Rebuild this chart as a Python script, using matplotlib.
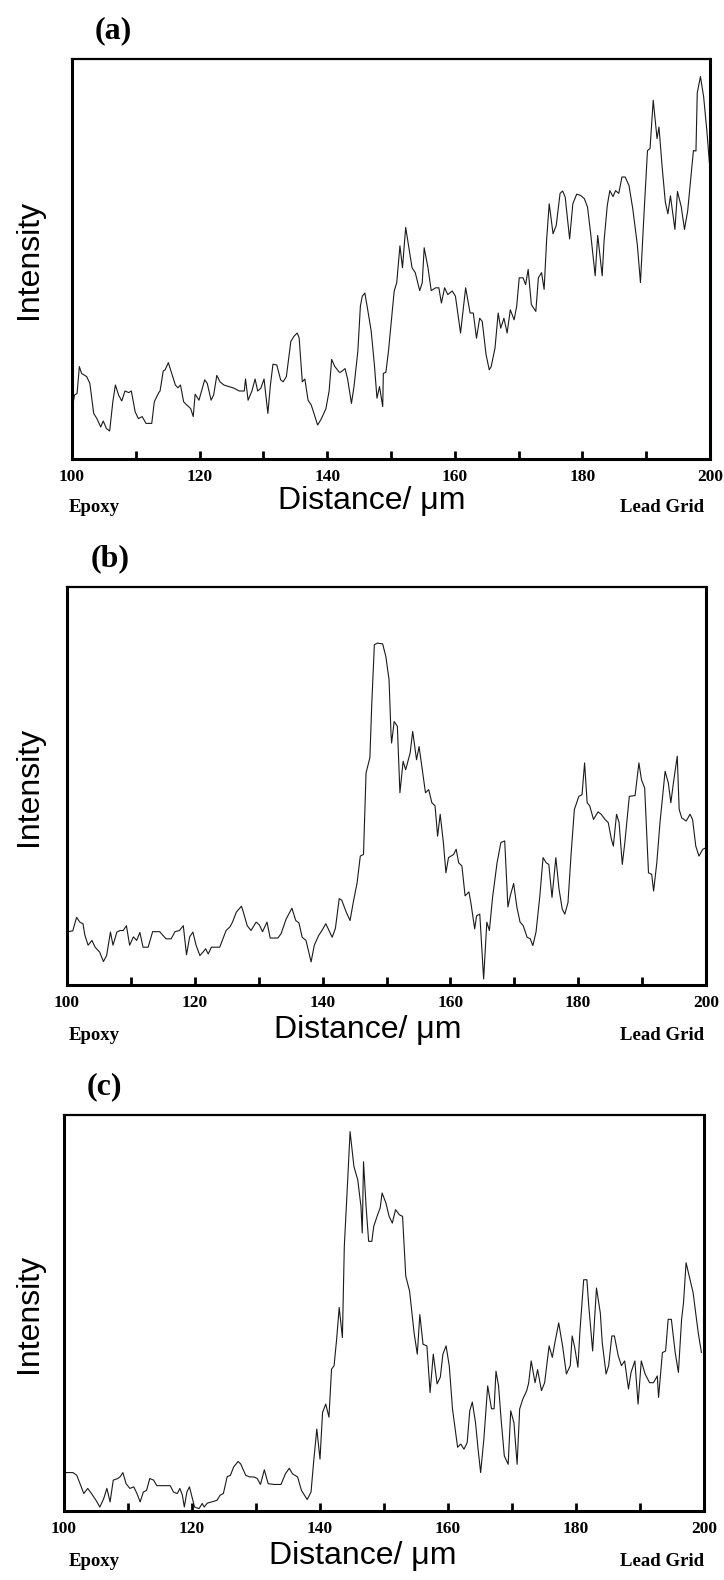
import matplotlib
matplotlib.use("Agg")
import matplotlib.pyplot as plt

# ---------------- data ----------------
dist_a = [100.0, 100.4, 100.8, 101.15, 101.5, 102.3, 102.8, 103.4, 103.9, 104.5, 104.9, 105.4, 105.9,
          106.4, 106.8, 107.3, 107.8, 108.3, 108.9, 109.3, 109.9, 110.4, 111.0, 111.6, 112.5, 112.9,
          113.6, 113.8, 114.3, 114.6, 115.1, 115.7, 116.2, 116.6, 117.0, 117.5, 118.0, 118.6, 119.0,
          119.3, 119.9, 120.8, 121.2, 121.8, 122.2, 122.7, 123.2, 123.8, 124.6, 125.4, 126.2, 127.0,
          127.2, 127.6, 128.2, 128.7, 129.1, 129.6, 130.1, 130.7, 131.1, 131.5, 132.1, 132.7, 133.1,
          133.6, 134.3, 134.8, 135.3, 135.6, 136.1, 136.5, 137.0, 137.5, 138.5, 139.1, 139.8, 140.3,
          140.7, 141.2, 141.9, 142.1, 142.8, 143.2, 143.8, 144.2, 144.8, 145.2, 145.5, 145.9, 146.3,
          146.9, 147.4, 147.8, 148.2, 148.7, 148.8, 149.2, 149.6, 150.2, 150.5, 150.9, 151.4, 151.8,
          152.3, 152.8, 153.3, 153.8, 154.5, 154.9, 155.2, 155.8, 156.3, 157.0, 157.5, 157.9, 158.4,
          158.9, 159.6, 160.1, 160.9, 161.7, 162.4, 162.9, 163.4, 163.9, 164.3, 164.9, 165.4, 165.7,
          166.3, 166.8, 167.2, 167.7, 168.2, 168.7, 169.3, 169.7, 170.1, 170.7, 171.1, 171.5, 172.0,
          172.7, 173.1, 173.6, 174.0, 174.4, 174.8, 175.4, 175.9, 176.5, 176.9, 177.3, 178.0, 178.5,
          179.1, 179.7, 180.3, 180.8, 181.3, 182.0, 182.4, 183.1, 183.4, 183.9, 184.3, 184.8, 185.2,
          185.7, 186.2, 186.7, 187.3, 187.9, 188.6, 189.1, 189.6, 190.2, 190.6, 191.1, 191.7, 192.0,
          192.5, 193.0, 193.4, 193.8, 194.5, 194.9, 195.5, 196.0, 196.5, 197.0, 197.4, 197.8, 198.0,
          198.5, 199.0, 199.5, 200.0]
int_a = [12.6, 16.0, 16.4, 23.1, 21.4, 20.6, 18.9, 11.4, 10.1, 8.0, 9.5, 7.6, 7.0,
         14.3, 18.5, 16.0, 14.5, 17.0, 16.6, 17.0, 11.8, 10.1, 10.6, 8.9, 8.9, 14.3,
         16.6, 17.0, 22.0, 22.3, 24.1, 21.0, 18.5, 17.8, 18.5, 14.3, 13.5, 12.6, 10.6,
         16.2, 14.7, 19.8, 18.9, 14.7, 16.0, 20.9, 19.3, 18.5, 18.1, 17.7, 17.0, 17.0,
         20.0, 14.7, 17.0, 20.0, 17.0, 17.7, 20.0, 11.4, 18.5, 23.7, 23.5, 19.8, 19.3,
         20.6, 29.4, 30.7, 31.5, 30.3, 19.3, 20.0, 14.7, 13.5, 8.5, 10.1, 12.6, 17.0,
         24.9, 23.1, 21.7, 21.7, 22.6, 20.0, 13.9, 18.1, 26.9, 38.2, 40.7, 41.5, 37.8,
         31.9, 23.5, 15.2, 18.1, 13.1, 21.4, 21.7, 26.9, 36.9, 42.0, 44.1, 53.3, 47.8,
         57.9, 52.8, 47.8, 46.6, 42.1, 44.1, 52.8, 47.8, 42.1, 42.8, 42.8, 39.0, 42.8,
         41.1, 42.0, 40.7, 31.5, 42.8, 36.5, 36.5, 30.2, 35.2, 34.4, 26.1, 22.3, 23.1,
         27.7, 36.5, 32.7, 35.2, 31.5, 37.3, 34.8, 38.2, 45.3, 45.3, 43.6, 47.4, 38.6,
         36.9, 45.3, 46.6, 42.4, 55.0, 63.8, 56.3, 58.4, 66.4, 67.0, 65.5, 55.0, 63.8,
         66.2, 65.9, 65.1, 63.0, 56.3, 45.8, 55.9, 45.8, 54.6, 63.4, 67.1, 65.6, 67.1,
         66.4, 70.5, 70.5, 68.4, 62.5, 53.7, 44.1, 59.6, 77.1, 77.6, 89.7, 80.1, 83.0,
         73.0, 64.2, 61.3, 65.8, 57.4, 66.9, 63.0, 57.4, 62.0, 70.5, 77.1, 77.0, 91.5,
         95.6, 90.6, 82.2, 72.2]

dist_b = [100.2, 100.9, 101.5, 102.0, 102.5, 102.8, 103.3, 103.9, 104.4, 105.1, 105.7, 106.2, 106.8,
          107.2, 107.8, 108.3, 108.8, 109.3, 109.8, 110.4, 110.9, 111.4, 111.9, 112.7, 113.4, 114.5,
          115.5, 116.3, 116.9, 117.6, 118.2, 118.7, 119.2, 119.7, 120.2, 120.8, 121.3, 121.7, 122.1,
          122.6, 123.9, 124.9, 125.5, 125.9, 126.5, 127.3, 127.6, 128.2, 128.8, 129.6, 130.1, 130.6,
          131.3, 131.8, 133.0, 133.5, 134.3, 135.2, 135.8, 136.3, 136.8, 137.4, 138.2, 138.7, 139.4,
          139.9, 140.5, 141.0, 141.5, 142.0, 142.6, 143.0, 143.7, 144.3, 144.8, 145.4, 145.9, 146.4,
          146.8, 147.4, 147.7, 148.1, 148.6, 149.4, 149.9, 150.4, 150.7, 150.8, 151.2, 151.7, 152.1,
          152.6, 153.0, 153.7, 154.1, 154.7, 155.1, 155.6, 156.1, 156.6, 157.1, 157.6, 158.0, 158.4,
          158.9, 159.3, 159.7, 160.5, 160.9, 161.3, 161.8, 162.3, 162.9, 163.2, 163.8, 164.1, 164.6,
          165.2, 165.7, 166.1, 166.6, 167.3, 167.9, 168.5, 169.0, 169.4, 169.9, 170.4, 170.9, 171.4,
          172.0, 172.5, 172.9, 173.4, 174.0, 174.5, 175.0, 175.4, 175.9, 176.5, 177.0, 177.5, 177.9,
          178.4, 178.9, 179.4, 180.1, 180.6, 181.0, 181.4, 181.8, 182.4, 183.1, 183.6, 184.2, 184.7,
          185.2, 185.5, 186.0, 186.4, 186.9, 187.3, 188.0, 188.9, 189.5, 189.9, 190.4, 191.0, 191.5,
          191.8, 192.3, 192.8, 193.6, 194.1, 194.5, 194.9, 195.5, 195.8, 196.2, 196.9, 197.5, 197.9,
          198.4, 198.9, 199.5, 200.0]
int_b = [13.4, 13.6, 17.0, 15.8, 15.4, 12.5, 10.0, 11.2, 9.5, 8.3, 5.9, 7.4, 13.3,
         10.0, 13.3, 13.7, 13.7, 14.9, 10.0, 12.1, 11.2, 13.2, 9.5, 9.5, 13.4, 13.4,
         11.6, 11.6, 13.4, 13.7, 14.9, 7.6, 12.1, 13.3, 10.0, 7.4, 8.3, 9.1, 7.8,
         9.5, 9.5, 13.7, 14.6, 15.8, 18.3, 19.8, 18.3, 14.9, 13.7, 15.8, 15.1, 13.4,
         15.8, 11.8, 11.8, 12.9, 16.6, 19.3, 16.2, 15.6, 12.0, 11.2, 5.8, 10.0, 12.5,
         13.7, 15.4, 13.7, 12.0, 14.2, 21.7, 21.3, 18.3, 16.2, 20.8, 25.7, 32.4, 32.8,
         53.3, 57.1, 70.8, 85.5, 85.9, 85.7, 82.5, 76.7, 63.3, 60.8, 66.2, 65.0, 48.3,
         56.2, 54.1, 58.3, 63.7, 56.6, 59.9, 54.1, 48.3, 49.1, 45.8, 45.0, 37.4, 42.9,
         35.8, 28.2, 32.0, 32.8, 34.1, 30.7, 29.9, 22.4, 23.4, 20.7, 14.1, 17.4, 17.8,
         1.5, 15.8, 13.7, 22.0, 30.7, 35.8, 36.2, 19.6, 22.6, 25.5, 19.6, 15.8, 14.9,
         12.0, 11.6, 9.9, 13.3, 22.4, 32.0, 30.7, 30.3, 22.0, 32.0, 24.1, 19.1, 17.8,
         20.7, 33.2, 44.1, 47.4, 47.8, 55.8, 45.8, 45.0, 41.6, 43.5, 42.9, 41.6, 40.8,
         36.6, 34.9, 42.9, 40.8, 30.3, 35.8, 47.4, 47.6, 55.8, 51.6, 49.5, 28.2, 27.8,
         23.6, 30.7, 40.8, 53.7, 50.8, 45.8, 50.8, 57.5, 44.1, 42.0, 41.2, 42.9, 41.6,
         34.9, 32.4, 34.1, 34.5]

dist_c = [100.0, 101.4, 102.0, 102.5, 103.1, 103.7, 104.3, 105.0, 105.6, 106.2, 106.7, 107.2, 107.7,
          108.4, 108.8, 109.2, 109.7, 110.3, 110.9, 111.4, 111.9, 112.4, 112.9, 113.4, 114.0, 114.5,
          116.6, 117.1, 117.7, 118.1, 118.5, 118.8, 119.2, 119.6, 120.0, 120.4, 121.1, 121.6, 121.9,
          122.4, 123.1, 123.9, 124.4, 124.9, 125.5, 126.0, 126.5, 127.2, 127.6, 128.4, 129.0, 129.7,
          130.2, 130.7, 131.3, 131.9, 132.8, 133.9, 134.6, 135.2, 135.7, 136.5, 137.1, 138.0, 138.6,
          139.0, 139.5, 140.0, 140.4, 140.9, 141.4, 141.8, 142.2, 142.6, 143.0, 143.5, 143.8, 144.2,
          144.7, 145.3, 145.9, 146.4, 146.6, 146.8, 147.2, 147.6, 148.1, 148.4, 149.0, 149.4, 149.7,
          150.3, 150.8, 151.3, 151.8, 152.4, 152.9, 153.4, 154.0, 154.7, 155.2, 155.6, 156.1, 156.7,
          157.2, 157.7, 158.3, 158.8, 159.2, 159.7, 160.2, 160.7, 161.5, 162.0, 162.5, 163.0, 163.4,
          163.8, 164.3, 164.7, 165.1, 165.6, 166.2, 166.8, 167.2, 167.5, 167.9, 168.3, 168.8, 169.4,
          169.8, 170.3, 170.8, 171.2, 171.7, 172.3, 172.6, 173.0, 173.6, 174.0, 174.6, 175.1, 175.8,
          176.3, 176.7, 177.3, 177.9, 178.5, 179.1, 179.4, 179.8, 180.3, 180.6, 181.2, 181.7, 182.0,
          182.6, 183.2, 183.8, 184.1, 184.7, 185.1, 185.6, 186.0, 186.6, 187.1, 187.6, 188.2, 188.6,
          189.2, 189.7, 190.2, 190.8, 191.5, 192.1, 192.7, 192.9, 193.5, 194.0, 194.4, 194.9, 195.5,
          196.0, 196.5, 196.8, 197.2, 197.7, 198.3, 198.7, 199.1, 199.6]
int_c = [9.7, 9.7, 9.0, 6.9, 4.4, 5.7, 4.4, 2.7, 1.0, 3.1, 5.7, 2.3, 7.8,
         8.2, 8.7, 9.7, 6.9, 5.7, 6.1, 4.4, 2.3, 4.8, 5.2, 8.2, 7.8, 6.4,
         6.4, 4.8, 4.4, 5.7, 4.0, 1.0, 4.8, 6.1, 3.6, 1.0, 0.6, 1.9, 1.0,
         2.0, 2.3, 2.7, 4.0, 4.4, 8.7, 9.0, 11.1, 12.5, 11.9, 9.0, 8.6, 8.6,
         8.2, 6.7, 10.4, 6.9, 6.7, 6.7, 9.4, 10.8, 9.4, 8.6, 5.2, 2.9, 4.8,
         12.3, 20.7, 13.1, 24.9, 27.0, 23.7, 35.8, 36.7, 43.4, 51.4, 43.8, 66.9, 79.5,
         95.8, 87.0, 83.6, 76.9, 70.2, 88.2, 76.9, 68.1, 68.1, 71.9, 74.8, 76.5, 80.3,
         77.8, 74.4, 72.7, 76.1, 74.8, 74.4, 59.3, 55.5, 45.0, 39.6, 49.6, 42.1, 41.7,
         29.9, 39.6, 32.1, 33.8, 39.6, 41.7, 36.6, 25.8, 16.1, 16.9, 15.6, 17.3, 25.3,
         27.5, 22.3, 15.6, 9.7, 18.1, 31.6, 25.8, 25.8, 35.3, 31.6, 23.1, 13.9, 11.8,
         25.3, 22.3, 11.8, 25.8, 28.3, 30.4, 32.3, 37.9, 32.4, 35.7, 30.4, 32.4, 41.7,
         38.8, 42.5, 47.5, 41.7, 34.6, 36.7, 44.2, 41.3, 36.3, 45.0, 58.4, 58.4, 51.7,
         40.4, 56.3, 50.0, 42.5, 34.6, 36.7, 44.2, 44.2, 39.2, 36.7, 37.9, 30.8, 35.0,
         37.9, 27.0, 37.9, 34.6, 32.4, 32.4, 34.1, 28.7, 40.0, 40.4, 48.4, 48.4, 40.0,
         35.0, 48.4, 52.6, 62.7, 59.3, 55.1, 50.1, 45.0, 40.0]

panel_letters = ["(a)", "(b)", "(c)"]
tick_values = list(range(100, 201, 10))
tick_labels = ["100", "", "120", "", "140", "", "160", "", "180", "", "200"]
x_title = "Distance/ \u03bcm"
y_title = "Intensity"
left_note = "Epoxy"
right_note = "Lead Grid"

# ---------------- layout ----------------
W, H = 724, 1580
fig = plt.figure(figsize=(W / 100, H / 100), dpi=100)

# pixel boxes (left, top, right, bottom)
boxes = [(72, 59, 710, 459), (67, 587, 706, 985), (64, 1115, 704, 1511)]
letter_x = [113, 110, 104]
xtitle_x = [372, 368, 363]
xtitle_dy = [42, 45, 45]
note_dy = [48, 50, 50]

series = [(dist_a, int_a), (dist_b, int_b), (dist_c, int_c)]

serif_b = dict(family="Liberation Serif", weight="bold")
sans = dict(family="Liberation Sans")


def fx(px):
    return px / W


def fy(py):
    return 1 - py / H


for i, ((l, t, r, b), (xs, ys)) in enumerate(zip(boxes, series)):
    ax = fig.add_axes([fx(l), fy(b), (r - l) / W, (b - t) / H])
    ax.plot(xs, ys, color="#1a1a1a", lw=0.8)
    ax.set_xlim(100, 200)
    ax.set_ylim(0, 100)
    ax.set_yticks([])
    ax.set_xticks(tick_values)
    ax.set_xticklabels(tick_labels, fontsize=12.5, **serif_b)
    ax.tick_params(axis="x", direction="in", length=6, width=2.0, pad=7.5, color="black")
    for side in ["left", "bottom", "right"]:
        ax.spines[side].set_linewidth(2.2)
    ax.spines["top"].set_linewidth(1.6)

    # texts
    fig.text(fx(letter_x[i]), fy(t - 28), panel_letters[i], ha="center", va="center",
             fontsize=23, **serif_b)
    fig.text(fx(29), fy((t + b) / 2), y_title, rotation=90, ha="center", va="center",
             fontsize=23, **sans)
    fig.text(fx(xtitle_x[i]), fy(b + xtitle_dy[i]), x_title, ha="center", va="center",
             fontsize=23, **sans)
    fig.text(fx(69), fy(b + note_dy[i]), left_note, ha="left", va="center",
             fontsize=13.5, **serif_b)
    fig.text(fx(704), fy(b + note_dy[i]), right_note, ha="right", va="center",
             fontsize=13.5, **serif_b)

fig.savefig("out.png", dpi=100)
